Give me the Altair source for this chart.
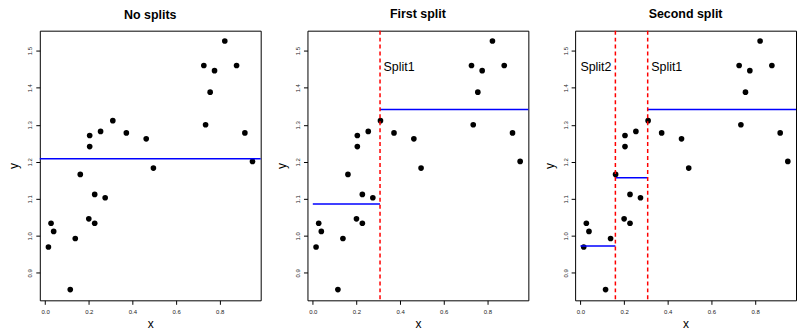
import altair as alt
import pandas as pd

# ---- data ----
xs = [0.015, 0.027, 0.039, 0.115, 0.138, 0.161, 0.200, 0.204, 0.204, 0.227,
      0.227, 0.254, 0.275, 0.310, 0.372, 0.463, 0.496, 0.727, 0.735, 0.756,
      0.776, 0.823, 0.877, 0.915, 0.950]
ys = [0.970, 1.034, 1.012, 0.855, 0.993, 1.166, 1.046, 1.241, 1.271, 1.112,
      1.034, 1.282, 1.103, 1.311, 1.278, 1.262, 1.183, 1.460, 1.300, 1.388,
      1.446, 1.526, 1.460, 1.278, 1.201]
split1 = 0.308
split2 = 0.160
titles = ["No splits", "First split", "Second split"]
x_ticks = [0.0, 0.2, 0.4, 0.6, 0.8]
y_ticks = [0.9, 1.0, 1.1, 1.2, 1.3, 1.4, 1.5]

pts = pd.DataFrame({"x": xs, "y": ys})

def leaf_segments(bounds):
    rows = []
    for lo, hi in bounds:
        sel = pts[(pts.x >= lo) & (pts.x < hi)]
        rows.append({"x": lo, "x2": hi, "y": sel.y.mean()})
    return pd.DataFrame(rows)

seg2 = leaf_segments([(0.0, split1), (split1, 1.0)])
seg3 = leaf_segments([(0.0, split2), (split2, split1), (split1, 1.0)])
mean_all = pd.DataFrame({"y": [pts.y.mean()]})

FONT = "Liberation Sans"
W, H = 222, 271
xdom = [-0.0245, 0.9875]
ydom = [0.826, 1.554]

xs_scale = alt.Scale(domain=xdom, nice=False, zero=False)
ys_scale = alt.Scale(domain=ydom, nice=False, zero=False)

x_axis = alt.Axis(values=x_ticks, format=".1f", title="x", domain=False, grid=False,
                  tickSize=4, tickColor="black", labelFontSize=6, labelFont=FONT,
                  labelColor="#222", labelPadding=4,
                  titleFont=FONT, titleFontSize=12, titleFontWeight="normal",
                  titleX=W / 2, titleY=23, titleBaseline="middle", titleAlign="center")
y_axis = alt.Axis(values=y_ticks, format=".1f", title="y", domain=False, grid=False,
                  tickSize=4, tickColor="black", labelFontSize=6, labelFont=FONT,
                  labelColor="#222", labelAngle=-90, labelAlign="center",
                  labelBaseline="bottom", labelPadding=3,
                  titleFont=FONT, titleFontSize=12, titleFontWeight="normal",
                  titleAngle=-90, titleX=-26, titleY=H / 2, titleBaseline="middle",
                  titleAlign="center")

def base_points():
    return alt.Chart(pts).mark_circle(size=32, color="black", opacity=1).encode(
        x=alt.X("x:Q", scale=xs_scale, axis=x_axis),
        y=alt.Y("y:Q", scale=ys_scale, axis=y_axis),
    )

def vline(v):
    return alt.Chart(pd.DataFrame({"x": [v]})).mark_rule(
        color="#FF0000", strokeWidth=1.5, strokeDash=[4, 3]
    ).encode(x=alt.X("x:Q", scale=xs_scale))

def segs(df):
    return alt.Chart(df).mark_rule(color="#0000FF", strokeWidth=1.5, clip=True).encode(
        x=alt.X("x:Q", scale=xs_scale), x2="x2:Q", y=alt.Y("y:Q", scale=ys_scale))

def label(txt, xv, align):
    return alt.Chart(pd.DataFrame({"x": [xv], "y": [1.455], "t": [txt]})).mark_text(
        font=FONT, fontSize=12.5, align=align, baseline="middle", color="black"
    ).encode(x=alt.X("x:Q", scale=xs_scale), y=alt.Y("y:Q", scale=ys_scale), text="t:N")

def title(t):
    return alt.TitleParams(t, font=FONT, fontSize=12.5, fontWeight="bold",
                           anchor="middle", offset=9, color="black")

p1 = alt.layer(
    base_points(),
    alt.Chart(mean_all).mark_rule(color="#0000FF", strokeWidth=1.5).encode(
        y=alt.Y("y:Q", scale=ys_scale)),
).properties(width=W, height=H, title=title(titles[0]))

p2 = alt.layer(
    base_points(), segs(seg2), vline(split1), label("Split1", split1 + 0.016, "left"),
).properties(width=W, height=H, title=title(titles[1]))

p3 = alt.layer(
    base_points(), segs(seg3), vline(split1), vline(split2),
    label("Split1", split1 + 0.016, "left"), label("Split2", split2 - 0.018, "right"),
).properties(width=W, height=H, title=title(titles[2]))

chart = alt.hconcat(p1, p2, p3, spacing=47, bounds="flush").properties(
    padding={"left": 7, "top": 7, "right": 0, "bottom": 0},
    background="white",
).configure_view(stroke="black", strokeWidth=1).configure_axis(
    tickWidth=1
)

chart.save("out.html", embed_options={"renderer": "svg", "actions": False})
